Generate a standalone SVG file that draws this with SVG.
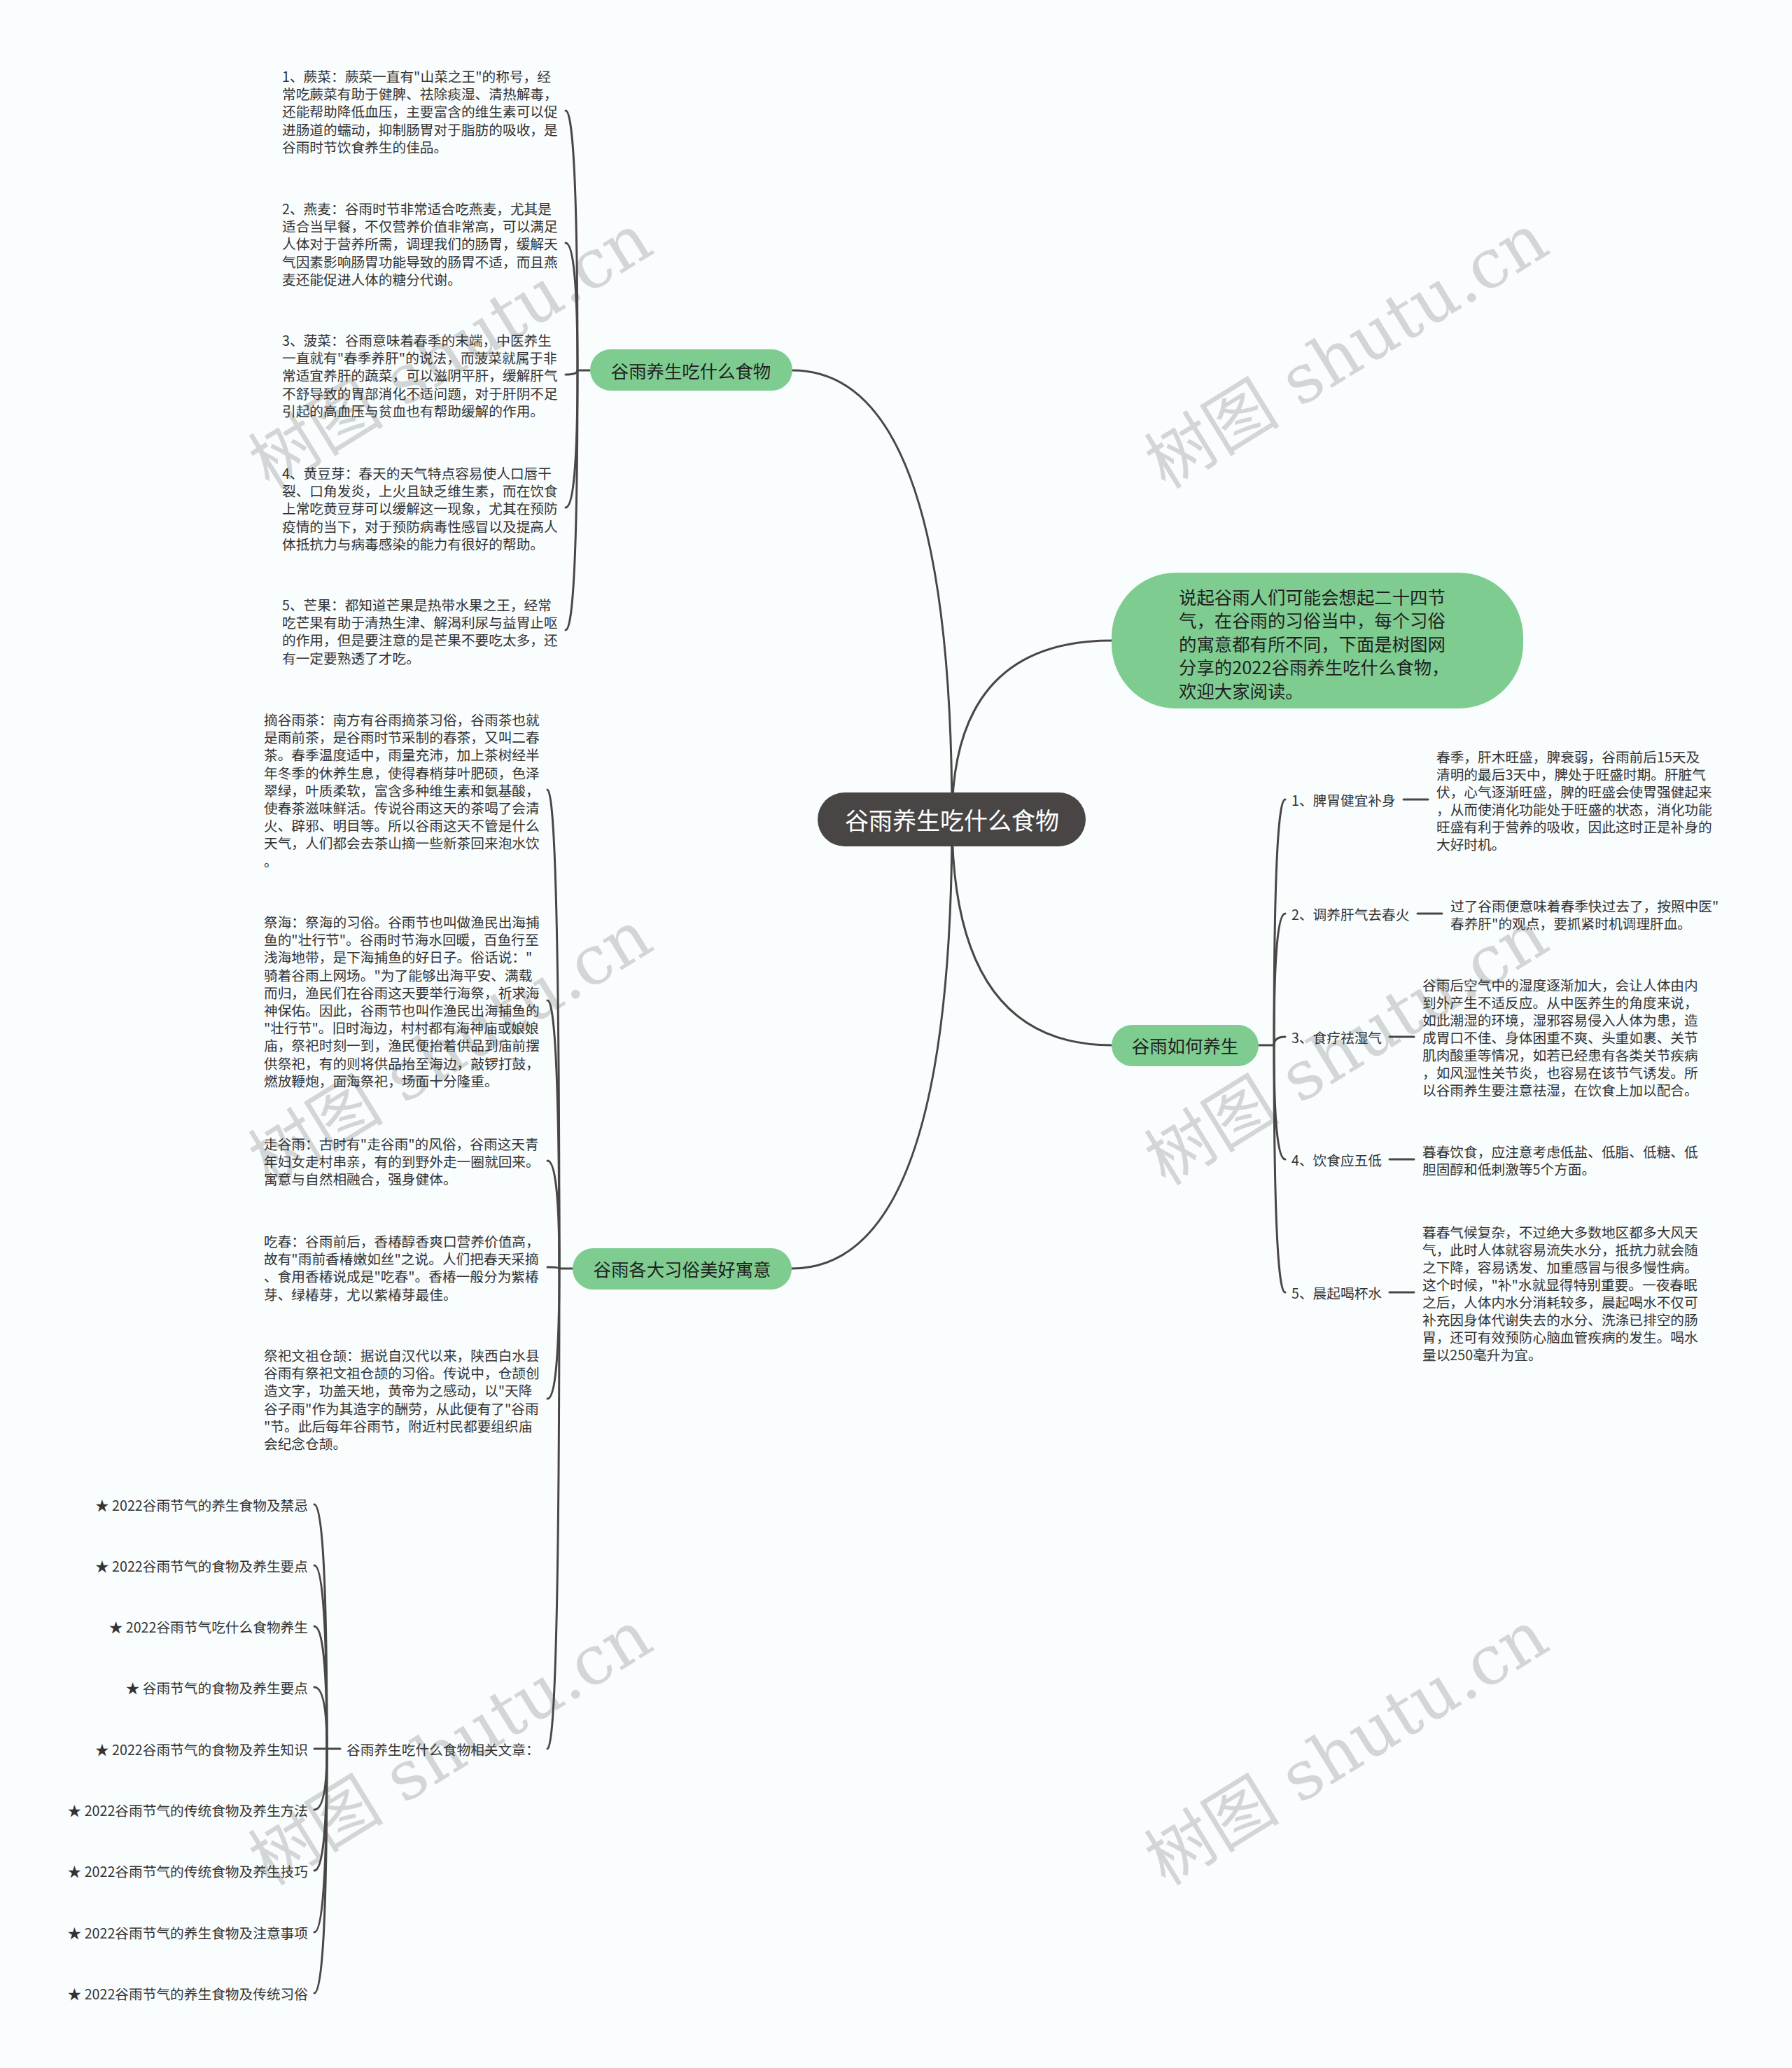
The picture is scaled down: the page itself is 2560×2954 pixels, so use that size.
<svg xmlns="http://www.w3.org/2000/svg" width="2560" height="2954" viewBox="0 0 2560 2954">
<style>
.bg{fill:#f9fdfe}
.wm{font-family:"DejaVu Serif","Noto Sans CJK SC",serif;font-size:97px;fill:#d3d6d7}
.ln{fill:none;stroke:#4a4646;stroke-width:3;stroke-linecap:round}
.root{fill:#4a4545}
.grn{fill:#7fcc91}
.t{font-family:"Noto Sans CJK SC","Noto Sans",sans-serif;dominant-baseline:central}
.rt{font-size:34px;fill:#ffffff;text-anchor:middle}
.bt{font-size:25.4px;fill:#1f1f1f;text-anchor:middle}
.it{font-size:25.4px;fill:#1f1f1f}
.dt{font-size:19.7px;fill:#333333}
.st{font-size:19.7px;fill:#333333;text-anchor:end}
</style>
<rect class="bg" x="0" y="0" width="2560" height="2954"/>
<g id="watermarks">
<text class="wm" x="385" y="700" transform="rotate(-31.6 385 700)">树图 shutu.cn</text>
<text class="wm" x="1665" y="700" transform="rotate(-31.6 1665 700)">树图 shutu.cn</text>
<text class="wm" x="385" y="1695" transform="rotate(-31.6 385 1695)">树图 shutu.cn</text>
<text class="wm" x="1665" y="1695" transform="rotate(-31.6 1665 1695)">树图 shutu.cn</text>
<text class="wm" x="385" y="2695" transform="rotate(-31.6 385 2695)">树图 shutu.cn</text>
<text class="wm" x="1665" y="2695" transform="rotate(-31.6 1665 2695)">树图 shutu.cn</text>
</g>
<g id="connectors">
<path class="ln" d="M1360,1170 Q1360,529 1132,529"/>
<path class="ln" d="M1360,1170 Q1360,915 1588,915"/>
<path class="ln" d="M1360,1170 Q1360,1493 1588,1493"/>
<path class="ln" d="M1360,1170 Q1360,1812 1131,1812"/>
<path class="ln" d="M843,529 L825,529"/>
<path class="ln" d="M825,529 Q825,158 808,158"/>
<path class="ln" d="M825,529 Q825,347 808,347"/>
<path class="ln" d="M825,529 Q825,535 808,535"/>
<path class="ln" d="M825,529 Q825,725 808,725"/>
<path class="ln" d="M825,529 Q825,900 808,900"/>
<path class="ln" d="M818,1812 L799,1812"/>
<path class="ln" d="M799,1812 Q799,1128 782,1128"/>
<path class="ln" d="M799,1812 Q799,1429 782,1429"/>
<path class="ln" d="M799,1812 Q799,1658 782,1658"/>
<path class="ln" d="M799,1812 Q799,1810 782,1810"/>
<path class="ln" d="M799,1812 Q799,1998 782,1998"/>
<path class="ln" d="M799,1812 Q799,2498 782,2498"/>
<path class="ln" d="M486,2498 L467,2498"/>
<path class="ln" d="M467,2498 Q467,2149 449,2149"/>
<path class="ln" d="M467,2498 Q467,2236 449,2236"/>
<path class="ln" d="M467,2498 Q467,2323 449,2323"/>
<path class="ln" d="M467,2498 Q467,2410 449,2410"/>
<path class="ln" d="M467,2498 L449,2498"/>
<path class="ln" d="M467,2498 Q467,2585 449,2585"/>
<path class="ln" d="M467,2498 Q467,2672 449,2672"/>
<path class="ln" d="M467,2498 Q467,2760 449,2760"/>
<path class="ln" d="M467,2498 Q467,2847 449,2847"/>
<path class="ln" d="M1798,1493 L1820,1493"/>
<path class="ln" d="M1820,1493 Q1820,1142 1836,1142"/>
<path class="ln" d="M1820,1493 Q1820,1305 1836,1305"/>
<path class="ln" d="M1820,1493 Q1820,1481 1836,1481"/>
<path class="ln" d="M1820,1493 Q1820,1656 1836,1656"/>
<path class="ln" d="M1820,1493 Q1820,1846 1836,1846"/>
<path class="ln" d="M2005,1142 L2040,1142"/>
<path class="ln" d="M2025,1305 L2060,1305"/>
<path class="ln" d="M1985,1481 L2020,1481"/>
<path class="ln" d="M1985,1656 L2020,1656"/>
<path class="ln" d="M1985,1846 L2020,1846"/>
</g>
<g id="root">
<rect class="root" x="1168" y="1132" width="383" height="77" rx="38.5"/>
<text class="t rt" x="1360" y="1170">谷雨养生吃什么食物</text>
</g>
<g id="intro">
<rect class="grn" x="1588" y="818" width="588" height="194" rx="92"/>
<text class="t it"><tspan x="1684" y="852">说起谷雨人们可能会想起二十四节</tspan><tspan x="1684" y="885.4">气，在谷雨的习俗当中，每个习俗</tspan><tspan x="1684" y="918.8">的寓意都有所不同，下面是树图网</tspan><tspan x="1684" y="952.2">分享的2022谷雨养生吃什么食物，</tspan><tspan x="1684" y="985.6">欢迎大家阅读。</tspan></text>
</g>
<g id="branch-food">
<rect class="grn" x="843" y="499" width="289" height="59" rx="29.5"/>
<text class="t bt" x="987" y="529">谷雨养生吃什么食物</text>
</g>
<g id="food-1">
<text class="t dt"><tspan x="403" y="108">1、蕨菜：蕨菜一直有"山菜之王"的称号，经</tspan><tspan x="403" y="133.2">常吃蕨菜有助于健脾、祛除痰湿、清热解毒，</tspan><tspan x="403" y="158.4">还能帮助降低血压，主要富含的维生素可以促</tspan><tspan x="403" y="183.6">进肠道的蠕动，抑制肠胃对于脂肪的吸收，是</tspan><tspan x="403" y="208.8">谷雨时节饮食养生的佳品。</tspan></text>
</g>
<g id="food-2">
<text class="t dt"><tspan x="403" y="297">2、燕麦：谷雨时节非常适合吃燕麦，尤其是</tspan><tspan x="403" y="322.2">适合当早餐，不仅营养价值非常高，可以满足</tspan><tspan x="403" y="347.4">人体对于营养所需，调理我们的肠胃，缓解天</tspan><tspan x="403" y="372.6">气因素影响肠胃功能导致的肠胃不适，而且燕</tspan><tspan x="403" y="397.8">麦还能促进人体的糖分代谢。</tspan></text>
</g>
<g id="food-3">
<text class="t dt"><tspan x="403" y="485">3、菠菜：谷雨意味着春季的末端，中医养生</tspan><tspan x="403" y="510.2">一直就有"春季养肝"的说法，而菠菜就属于非</tspan><tspan x="403" y="535.4">常适宜养肝的蔬菜，可以滋阴平肝，缓解肝气</tspan><tspan x="403" y="560.6">不舒导致的胃部消化不适问题，对于肝阴不足</tspan><tspan x="403" y="585.8">引起的高血压与贫血也有帮助缓解的作用。</tspan></text>
</g>
<g id="food-4">
<text class="t dt"><tspan x="403" y="675">4、黄豆芽：春天的天气特点容易使人口唇干</tspan><tspan x="403" y="700.2">裂、口角发炎，上火且缺乏维生素，而在饮食</tspan><tspan x="403" y="725.4">上常吃黄豆芽可以缓解这一现象，尤其在预防</tspan><tspan x="403" y="750.6">疫情的当下，对于预防病毒性感冒以及提高人</tspan><tspan x="403" y="775.8">体抵抗力与病毒感染的能力有很好的帮助。</tspan></text>
</g>
<g id="food-5">
<text class="t dt"><tspan x="403" y="863">5、芒果：都知道芒果是热带水果之王，经常</tspan><tspan x="403" y="888.2">吃芒果有助于清热生津、解渴利尿与益胃止呕</tspan><tspan x="403" y="913.4">的作用，但是要注意的是芒果不要吃太多，还</tspan><tspan x="403" y="938.6">有一定要熟透了才吃。</tspan></text>
</g>
<g id="branch-custom">
<rect class="grn" x="818" y="1783" width="313" height="59" rx="29.5"/>
<text class="t bt" x="974.5" y="1812">谷雨各大习俗美好寓意</text>
</g>
<g id="custom-1">
<text class="t dt"><tspan x="377" y="1027">摘谷雨茶：南方有谷雨摘茶习俗，谷雨茶也就</tspan><tspan x="377" y="1052.2">是雨前茶，是谷雨时节采制的春茶，又叫二春</tspan><tspan x="377" y="1077.4">茶。春季温度适中，雨量充沛，加上茶树经半</tspan><tspan x="377" y="1102.6">年冬季的休养生息，使得春梢芽叶肥硕，色泽</tspan><tspan x="377" y="1127.8">翠绿，叶质柔软，富含多种维生素和氨基酸，</tspan><tspan x="377" y="1153">使春茶滋味鲜活。传说谷雨这天的茶喝了会清</tspan><tspan x="377" y="1178.2">火、辟邪、明目等。所以谷雨这天不管是什么</tspan><tspan x="377" y="1203.4">天气，人们都会去茶山摘一些新茶回来泡水饮</tspan><tspan x="377" y="1228.6">。</tspan></text>
</g>
<g id="custom-2">
<text class="t dt"><tspan x="377" y="1316">祭海：祭海的习俗。谷雨节也叫做渔民出海捕</tspan><tspan x="377" y="1341.2">鱼的"壮行节"。谷雨时节海水回暖，百鱼行至</tspan><tspan x="377" y="1366.4">浅海地带，是下海捕鱼的好日子。俗话说："</tspan><tspan x="377" y="1391.6">骑着谷雨上网场。"为了能够出海平安、满载</tspan><tspan x="377" y="1416.8">而归，渔民们在谷雨这天要举行海祭，祈求海</tspan><tspan x="377" y="1442">神保佑。因此，谷雨节也叫作渔民出海捕鱼的</tspan><tspan x="377" y="1467.2">"壮行节"。旧时海边，村村都有海神庙或娘娘</tspan><tspan x="377" y="1492.4">庙，祭祀时刻一到，渔民便抬着供品到庙前摆</tspan><tspan x="377" y="1517.6">供祭祀，有的则将供品抬至海边，敲锣打鼓，</tspan><tspan x="377" y="1542.8">燃放鞭炮，面海祭祀，场面十分隆重。</tspan></text>
</g>
<g id="custom-3">
<text class="t dt"><tspan x="377" y="1633">走谷雨：古时有"走谷雨"的风俗，谷雨这天青</tspan><tspan x="377" y="1658.2">年妇女走村串亲，有的到野外走一圈就回来。</tspan><tspan x="377" y="1683.4">寓意与自然相融合，强身健体。</tspan></text>
</g>
<g id="custom-4">
<text class="t dt"><tspan x="377" y="1772">吃春：谷雨前后，香椿醇香爽口营养价值高，</tspan><tspan x="377" y="1797.2">故有"雨前香椿嫩如丝"之说。人们把春天采摘</tspan><tspan x="377" y="1822.4">、食用香椿说成是"吃春"。香椿一般分为紫椿</tspan><tspan x="377" y="1847.6">芽、绿椿芽，尤以紫椿芽最佳。</tspan></text>
</g>
<g id="custom-5">
<text class="t dt"><tspan x="377" y="1935">祭祀文祖仓颉：据说自汉代以来，陕西白水县</tspan><tspan x="377" y="1960.2">谷雨有祭祀文祖仓颉的习俗。传说中，仓颉创</tspan><tspan x="377" y="1985.4">造文字，功盖天地，黄帝为之感动，以"天降</tspan><tspan x="377" y="2010.6">谷子雨"作为其造字的酬劳，从此便有了"谷雨</tspan><tspan x="377" y="2035.8">"节。此后每年谷雨节，附近村民都要组织庙</tspan><tspan x="377" y="2061">会纪念仓颉。</tspan></text>
</g>
<g id="related">
<text class="t dt" x="495" y="2498">谷雨养生吃什么食物相关文章：</text>
</g>
<g id="related-items">
<text class="t st" x="440" y="2149">★ 2022谷雨节气的养生食物及禁忌</text>
<text class="t st" x="440" y="2236">★ 2022谷雨节气的食物及养生要点</text>
<text class="t st" x="440" y="2323">★ 2022谷雨节气吃什么食物养生</text>
<text class="t st" x="440" y="2410">★ 谷雨节气的食物及养生要点</text>
<text class="t st" x="440" y="2498">★ 2022谷雨节气的食物及养生知识</text>
<text class="t st" x="440" y="2585">★ 2022谷雨节气的传统食物及养生方法</text>
<text class="t st" x="440" y="2672">★ 2022谷雨节气的传统食物及养生技巧</text>
<text class="t st" x="440" y="2760">★ 2022谷雨节气的养生食物及注意事项</text>
<text class="t st" x="440" y="2847">★ 2022谷雨节气的养生食物及传统习俗</text>
</g>
<g id="branch-health">
<rect class="grn" x="1588" y="1464" width="210" height="59" rx="29.5"/>
<text class="t bt" x="1693" y="1493">谷雨如何养生</text>
</g>
<g id="health-1">
<text class="t dt" x="1845" y="1142">1、脾胃健宜补身</text>
<text class="t dt"><tspan x="2052" y="1080">春季，肝木旺盛，脾衰弱，谷雨前后15天及</tspan><tspan x="2052" y="1105">清明的最后3天中，脾处于旺盛时期。肝脏气</tspan><tspan x="2052" y="1130">伏，心气逐渐旺盛，脾的旺盛会使胃强健起来</tspan><tspan x="2052" y="1155">，从而使消化功能处于旺盛的状态，消化功能</tspan><tspan x="2052" y="1180">旺盛有利于营养的吸收，因此这时正是补身的</tspan><tspan x="2052" y="1205">大好时机。</tspan></text>
</g>
<g id="health-2">
<text class="t dt" x="1845" y="1305">2、调养肝气去春火</text>
<text class="t dt"><tspan x="2072" y="1293">过了谷雨便意味着春季快过去了，按照中医"</tspan><tspan x="2072" y="1318">春养肝"的观点，要抓紧时机调理肝血。</tspan></text>
</g>
<g id="health-3">
<text class="t dt" x="1845" y="1481">3、食疗祛湿气</text>
<text class="t dt"><tspan x="2032" y="1406">谷雨后空气中的湿度逐渐加大，会让人体由内</tspan><tspan x="2032" y="1431">到外产生不适反应。从中医养生的角度来说，</tspan><tspan x="2032" y="1456">如此潮湿的环境，湿邪容易侵入人体为患，造</tspan><tspan x="2032" y="1481">成胃口不佳、身体困重不爽、头重如裹、关节</tspan><tspan x="2032" y="1506">肌肉酸重等情况，如若已经患有各类关节疾病</tspan><tspan x="2032" y="1531">，如风湿性关节炎，也容易在该节气诱发。所</tspan><tspan x="2032" y="1556">以谷雨养生要注意祛湿，在饮食上加以配合。</tspan></text>
</g>
<g id="health-4">
<text class="t dt" x="1845" y="1656">4、饮食应五低</text>
<text class="t dt"><tspan x="2032" y="1644">暮春饮食，应注意考虑低盐、低脂、低糖、低</tspan><tspan x="2032" y="1669">胆固醇和低刺激等5个方面。</tspan></text>
</g>
<g id="health-5">
<text class="t dt" x="1845" y="1846">5、晨起喝杯水</text>
<text class="t dt"><tspan x="2032" y="1758.5">暮春气候复杂，不过绝大多数地区都多大风天</tspan><tspan x="2032" y="1783.5">气，此时人体就容易流失水分，抵抗力就会随</tspan><tspan x="2032" y="1808.5">之下降，容易诱发、加重感冒与很多慢性病。</tspan><tspan x="2032" y="1833.5">这个时候，"补"水就显得特别重要。一夜春眠</tspan><tspan x="2032" y="1858.5">之后，人体内水分消耗较多，晨起喝水不仅可</tspan><tspan x="2032" y="1883.5">补充因身体代谢失去的水分、洗涤已排空的肠</tspan><tspan x="2032" y="1908.5">胃，还可有效预防心脑血管疾病的发生。喝水</tspan><tspan x="2032" y="1933.5">量以250毫升为宜。</tspan></text>
</g>
</svg>
